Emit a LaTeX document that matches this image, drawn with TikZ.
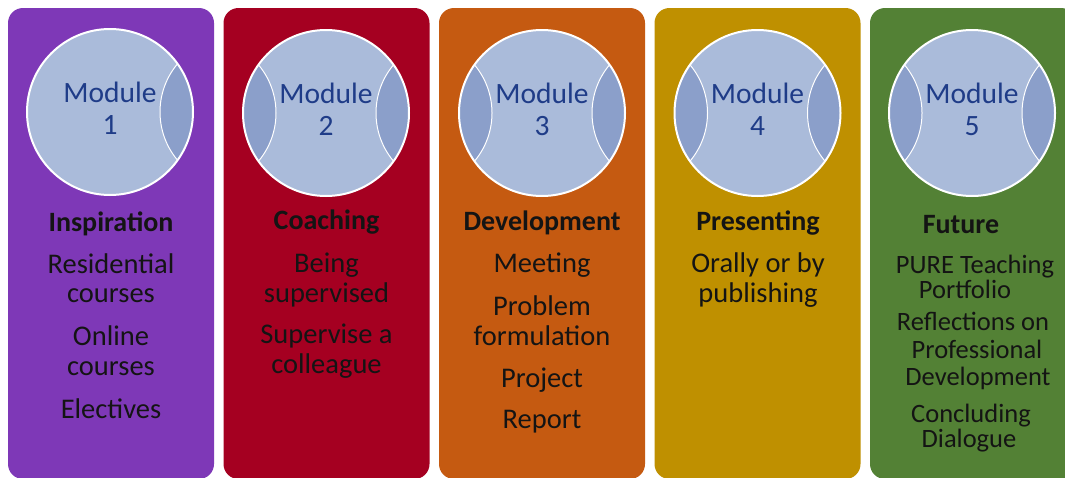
\documentclass[tikz,border=0pt]{standalone}
\usepackage{fontspec}
\setmainfont{Carlito}
\usepackage{tikz}

\definecolor{modpurple}{HTML}{7E38B7}
\definecolor{modred}{HTML}{A50021}
\definecolor{modorange}{HTML}{C55A11}
\definecolor{modgold}{HTML}{BF9000}
\definecolor{modgreen}{HTML}{538135}
\definecolor{discfill}{HTML}{AABBDA}
\definecolor{lensfill}{HTML}{8B9FCA}
\definecolor{modblue}{HTML}{1F3C88}
\definecolor{inktext}{HTML}{141414}

\tikzset{
  modlabel/.style={text=modblue, font=\fontsize{29.5}{32}\selectfont, anchor=base, inner sep=0pt},
  headline/.style={text=inktext, font=\bfseries\fontsize{28}{30}\selectfont, anchor=base, inner sep=0pt},
  itemline/.style={text=inktext, font=\fontsize{28.5}{30}\selectfont, anchor=base, inner sep=0pt},
  smallline/.style={itemline, font=\fontsize{26.5}{28}\selectfont},
  column/.style={rounded corners=15pt},
}

% #1 = centre x, #2 = centre y, #3 = number, #4 = lens sides
\newcommand{\modcircle}[4]{%
  \begin{scope}
    \clip (#1,#2) circle (83pt);
    \fill[discfill] (#1,#2) circle (83pt);
    \foreach \s in {#4}
      \draw[white, line width=1pt, fill=lensfill] (#1+\s*125,#2) circle (75pt);
  \end{scope}
  \draw[white, line width=2pt] (#1,#2) circle (83pt);
  \node[modlabel] (mod#3) at (#1,#2-10) {Module};
  \node[modlabel] (num#3) at (#1,#2+22) {#3};
}

\begin{document}
\begin{tikzpicture}[x=1pt, y=-1pt]

\clip (0,0) rectangle (1065,477);
\fill[white] (0,0) rectangle (1065,477);

\fill[column, modpurple] (8,8) rectangle (214,479);
\fill[column, modred] (223.5,8) rectangle (429.5,479);
\fill[column, modorange] (439,8) rectangle (645,479);
\fill[column, modgold] (654.5,8) rectangle (860.5,479);
\fill[column, modgreen] (870,8) rectangle (1076,479);

\modcircle{110}{112}{1}{1}
\modcircle{326}{113}{2}{-1,1}
\modcircle{542}{113}{3}{-1,1}
\modcircle{757.5}{113}{4}{-1,1}
\modcircle{972}{113}{5}{-1,1}

% module 1
\node[headline] (insp) at (111,231) {Inspiration};
\node[itemline] (resi) at (111,273) {Residential};
\node[itemline] (resc) at (111,302) {courses};
\node[itemline] (onli) at (111,345) {Online};
\node[itemline] (onlc) at (111,375) {courses};
\node[itemline] (elec) at (111,418) {Electives};

% module 2
\node[headline] (coach) at (326.5,229) {Coaching};
\node[itemline] (being) at (326.5,272) {Being};
\node[itemline] (supd) at (326.5,302) {supervised};
\node[itemline] (supa) at (326.5,343) {Supervise a};
\node[itemline] (coll) at (326.5,373) {colleague};

% module 3
\node[headline] (devel) at (542,230) {Development};
\node[itemline] (meet) at (542,272) {Meeting};
\node[itemline] (prob) at (542,315) {Problem};
\node[itemline] (form) at (542,345) {formulation};
\node[itemline] (proj) at (542,387) {Project};
\node[itemline] (repo) at (542,428) {Report};

% module 4
\node[headline] (pres) at (758,230) {Presenting};
\node[itemline] (oral) at (758,272) {Orally or by};
\node[itemline] (publ) at (758,302) {publishing};

% module 5
\node[headline] (futu) at (961,233) {Future};
\node[smallline] (pure) at (975,273) {PURE Teaching};
\node[smallline] (port) at (965,298) {Portfolio};
\node[smallline] (refl) at (973,330) {Reflections on};
\node[smallline] (prof) at (977,358) {Professional};
\node[smallline] (pdev) at (978,385) {Development};
\node[smallline] (conc) at (971,422) {Concluding};
\node[smallline] (dial) at (969,447) {Dialogue};

\end{tikzpicture}
\end{document}
